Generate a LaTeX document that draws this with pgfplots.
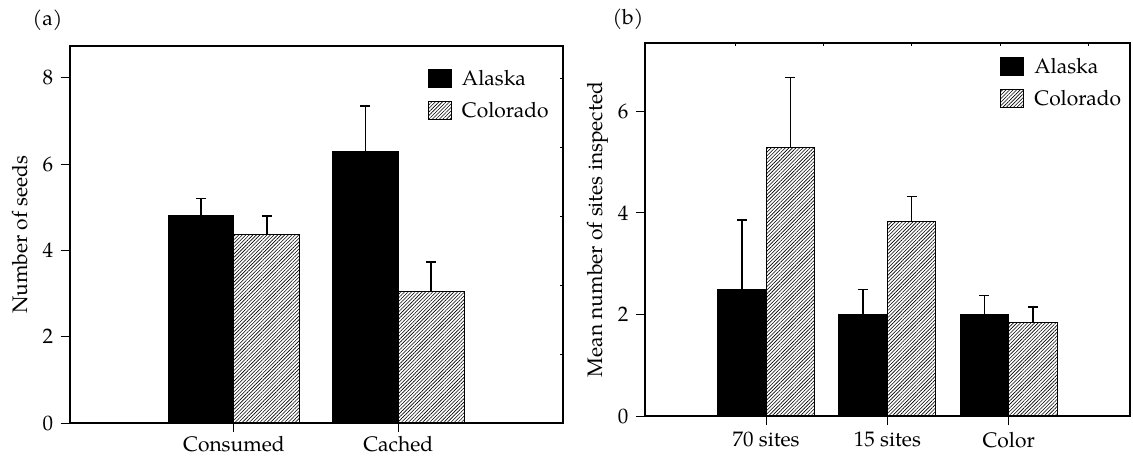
\documentclass[border=0pt]{standalone}
\usepackage{pgfplots}
\pgfplotsset{compat=1.18}
\usepackage{fontspec}
\setmainfont{TeX Gyre Pagella}
\usetikzlibrary{patterns.meta}
\begin{document}
\fontsize{10.5}{12.6}\selectfont
\begin{tikzpicture}[x=1pt,y=1pt]
\path[use as bounding box] (0,0) rectangle (566.5,228);
\pgfplotsset{
  common/.style={
    scale only axis, anchor=south west,
    ybar, bar width=0.4, ymin=0,
    tick pos=left, tick align=outside,
    major tick length=4.5pt,
    tick style={line width=0.5pt, black},
    axis line style={line width=1pt},
    /pgf/number format/assume math mode=true,
    ticklabel style={font=\fontsize{10.5}{12.6}\selectfont},
    legend style={draw=none, fill=none, anchor=north west, row sep=6pt, inner sep=0pt,
      nodes={inner sep=0pt, anchor=base west}, font=\fontsize{10.5}{12.6}\selectfont},
    legend cell align=left,
    legend image code/.code={\draw[##1] (0pt,-1pt) rectangle (11.5pt,8pt); \path (16.5pt,0pt);},
  },
  overlay/.style={
    scale only axis, anchor=south west,
    tick align=inside, major tick length=1.5pt,
    tick style={line width=0.4pt, black},
    axis line style={line width=1pt},
  },
  errs/.style={
    error bars/y dir=plus, error bars/y explicit,
    error bars/error bar style={line width=0.7pt, black},
    error bars/error mark options={rotate=90, mark size=2.5pt, line width=0.7pt, black}},
  alaska/.style={fill=black, draw=black, line width=0.5pt, bar shift=-0.2, errs},
  colorado/.style={draw=black, line width=0.5pt, bar shift=0.2,
    pattern={Lines[angle=45,distance=1.25pt,line width=0.3pt]}, errs},
}
% ---------------- panel (a)
\begin{axis}[common,
  at={(34.8pt,16.5pt)}, width=246.5pt, height=188.5pt,
  xmin=-1, xmax=2, ymax=8.74,
  xtick={0,1}, xticklabels={Consumed,Cached},
  xticklabel style={yshift=1.5pt},
  ytick={0,2,4,6,8},
  ylabel={Number of seeds},
  ylabel style={at={(axis description cs:-0.1014,0.5)}, anchor=center},
  legend style={at={(axis description cs:0.726,0.94)}},
]
\addplot[alaska] coordinates {(0,4.8) +- (0,0.4) (1,6.3) +- (0,1.05)};
\addlegendentry{Alaska}
\addplot[colorado] coordinates {(0,4.38) +- (0,0.42) (1,3.05) +- (0,0.68)};
\addlegendentry{Colorado}
\end{axis}
\begin{axis}[overlay,
  at={(34.8pt,16.5pt)}, width=246.5pt, height=188.5pt,
  xmin=-1, xmax=2, ymin=0, ymax=8.74,
  hide x axis, axis y line*=right,
  ytick={1.6,3.2,4.8,6.4,8}, yticklabels={},
]
\end{axis}
% ---------------- panel (b)
\begin{axis}[common,
  at={(322.4pt,20pt)}, width=242.6pt, height=186.35pt,
  xmin=-1, xmax=3, ymax=7.34,
  xtick={0,1,2}, xticklabels={70 sites,15 sites,Color},
  ytick={0,2,4,6},
  ylabel={Mean number of sites inspected},
  ylabel style={at={(axis description cs:-0.0965,0.5)}, anchor=center},
  legend style={at={(axis description cs:0.732,0.964)}},
]
\addplot[alaska] coordinates {(0,2.5) +- (0,1.36) (1,2.0) +- (0,0.49) (2,2.0) +- (0,0.37)};
\addlegendentry{Alaska}
\addplot[colorado] coordinates {(0,5.29) +- (0,1.38) (1,3.83) +- (0,0.49) (2,1.84) +- (0,0.31)};
\addlegendentry{Colorado}
\end{axis}
\begin{axis}[overlay,
  at={(322.4pt,20pt)}, width=242.6pt, height=186.35pt,
  xmin=-1, xmax=3, ymin=0, ymax=7.34,
  hide y axis, axis x line*=top,
  xtick={-0.25,0.47,1.2,1.93,2.66}, xticklabels={},
]
\end{axis}
\node at (23.75pt,218pt) {(a)};
\node at (314pt,218.5pt) {(b)};
\end{tikzpicture}
\end{document}
